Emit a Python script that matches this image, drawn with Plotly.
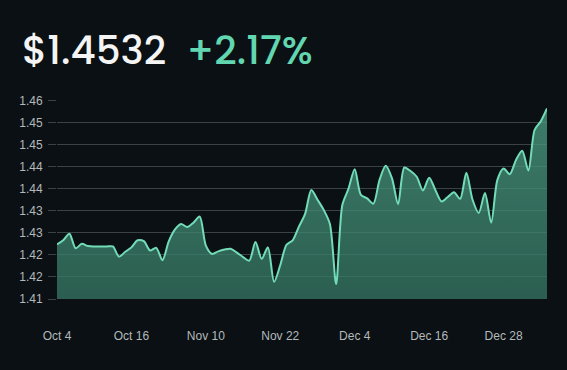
import plotly.graph_objects as go

prices = [1.4224, 1.4233, 1.4248, 1.4215, 1.4225, 1.4220, 1.4219, 1.4219, 1.4219, 1.4219,
          1.4196, 1.4207, 1.4217, 1.4233, 1.4231, 1.4210, 1.4216, 1.4188, 1.4230, 1.4257,
          1.4270, 1.4263, 1.4273, 1.4287, 1.4221, 1.4202, 1.4208, 1.4212, 1.4214, 1.4205,
          1.4195, 1.4187, 1.4229, 1.4191, 1.4217, 1.4139, 1.4177, 1.4223, 1.4233, 1.4264,
          1.4293, 1.4347, 1.4325, 1.4302, 1.4270, 1.4134, 1.4313, 1.4350, 1.4394, 1.4336,
          1.4328, 1.4316, 1.4370, 1.4402, 1.4374, 1.4315, 1.4398, 1.4390, 1.4377, 1.4346,
          1.4375, 1.4347, 1.4321, 1.4331, 1.4342, 1.4327, 1.4386, 1.4325, 1.4295, 1.4340,
          1.4273, 1.4370, 1.4396, 1.4383, 1.4415, 1.4436, 1.4391, 1.4483, 1.4503, 1.4532]
floor_value = 1.41
x_labels = ["Oct 4", "Oct 16", "Nov 10", "Nov 22", "Dec 4", "Dec 16", "Dec 28"]
x_label_idx = [0, 12, 24, 36, 48, 60, 72]
y_ticks = [1.41, 1.415, 1.42, 1.425, 1.43, 1.435, 1.44, 1.445, 1.45, 1.455]
price_text = "$1.4532"
change_text = "+2.17%"

idx = list(range(len(prices)))
bg = "#0a1013"
grid = "#3a4246"

fig = go.Figure()
fig.add_trace(go.Scatter(x=idx, y=[floor_value] * len(prices), mode="lines",
                         line=dict(width=0), hoverinfo="skip", showlegend=False))
fig.add_trace(go.Scatter(
    x=idx, y=prices, mode="lines", fill="tonexty",
    line=dict(color="#72dcb8", width=2, shape="spline", smoothing=0.8),
    fillgradient=dict(type="vertical",
                      colorscale=[[0, "rgba(54,120,100,0.75)"],
                                  [1, "rgba(78,160,134,0.75)"]]),
    showlegend=False))

fig.update_layout(
    width=567, height=370,
    paper_bgcolor=bg, plot_bgcolor=bg,
    margin=dict(l=57, r=20, t=100, b=71),
    title=dict(text=f"{price_text}  <span style='color:#62d6b0'>{change_text}</span>",
               x=22 / 567, xanchor="left", xref="container",
               y=1 - 50 / 370, yanchor="middle", yref="container",
               font=dict(family="Poppins, Inter, sans-serif", size=39, weight=500,
                         color="#f4f4f4")),
    font=dict(family="Liberation Sans, Arial, sans-serif", size=12, color="#b4b9bc"),
)
fig.update_xaxes(range=[0, len(prices) - 1], tickvals=x_label_idx, ticktext=x_labels,
                 showgrid=False, zeroline=False, showline=False, ticks="",
                 ticklabelstandoff=28, tickfont=dict(size=12, color="#b4b9bc"))
fig.update_yaxes(range=[1.41, 1.4551], tickvals=y_ticks, tickformat=".2f",
                 showgrid=True, gridcolor=grid, gridwidth=1, zeroline=False,
                 ticks="outside", ticklen=8, tickcolor=grid, showline=False,
                 ticklabelstandoff=3, tickfont=dict(size=12, color="#b4b9bc"))

fig.write_html("out.html", config={"displayModeBar": False},
               post_script="document.body.style.margin='0';"
                           "document.body.style.background='#0a1013';")
